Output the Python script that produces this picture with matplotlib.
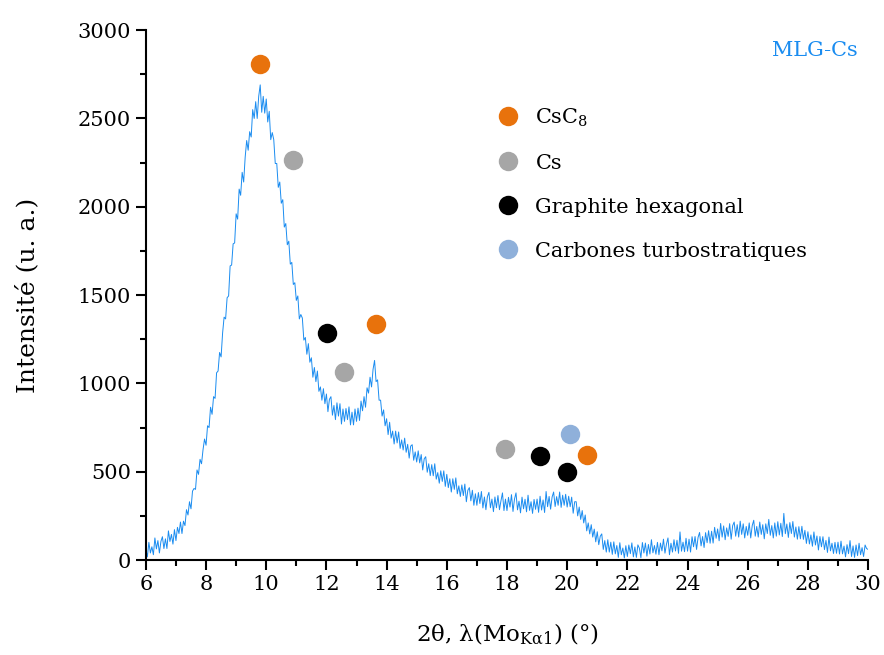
import matplotlib
matplotlib.use('Agg')
import matplotlib.pyplot as plt
from matplotlib.lines import Line2D
from matplotlib.ticker import MultipleLocator
import numpy as np

plt.rcParams['font.family'] = ['DejaVu Serif']
plt.rcParams['mathtext.fontset'] = 'dejavuserif'

BLUE = '#1a8cf0'

# diffractogram, read every 0.05 degree from 6 to 30
two_theta = np.round(np.linspace(6.0, 30.0, 481), 2)
intensity = [
    60, 18, 100, 40, 75, 30, 125, 63, 110, 40, 105, 132, 65, 120, 65, 165, 105, 145, 90, 172,
    110, 185, 150, 215, 150, 220, 195, 285, 255, 330, 290, 390, 405, 400, 510, 485, 570, 545, 625, 685,
    650, 760, 750, 865, 825, 925, 915, 1060, 1070, 1175, 1150, 1285, 1375, 1365, 1485, 1495, 1665, 1670, 1790, 1795,
    1960, 1930, 2100, 2065, 2195, 2140, 2280, 2375, 2320, 2425, 2395, 2550, 2500, 2595, 2500, 2625, 2690, 2535, 2625, 2530,
    2610, 2480, 2540, 2380, 2420, 2380, 2245, 2245, 2110, 2140, 2020, 2040, 1885, 1905, 1785, 1805, 1675, 1685, 1560, 1570,
    1470, 1495, 1365, 1390, 1370, 1245, 1260, 1165, 1225, 1120, 1145, 1035, 1090, 1010, 1070, 955, 980, 905, 970, 885,
    940, 840, 910, 925, 820, 875, 795, 890, 815, 885, 770, 855, 785, 858, 795, 867, 765, 837, 765, 855,
    785, 860, 790, 900, 845, 925, 865, 975, 945, 1035, 980, 1080, 1130, 1010, 1020, 905, 905, 815, 850, 760,
    800, 710, 780, 690, 730, 657, 730, 663, 725, 632, 680, 623, 690, 610, 655, 577, 645, 653, 565, 612,
    555, 618, 550, 597, 510, 573, 585, 497, 545, 478, 540, 477, 545, 458, 495, 435, 505, 445, 505, 417,
    485, 410, 460, 385, 460, 400, 465, 375, 420, 360, 425, 365, 430, 330, 395, 410, 335, 395, 310, 375,
    310, 382, 320, 388, 295, 357, 285, 359, 383, 296, 345, 274, 357, 296, 365, 285, 335, 380, 280, 345,
    280, 355, 300, 370, 275, 345, 380, 284, 333, 267, 356, 290, 344, 273, 367, 281, 330, 264, 343, 287,
    345, 270, 361, 283, 340, 269, 388, 302, 360, 288, 357, 385, 303, 359, 310, 385, 298, 367, 310, 372,
    300, 361, 302, 356, 265, 330, 330, 250, 300, 230, 280, 210, 255, 165, 210, 148, 200, 130, 175, 103,
    160, 87, 135, 148, 60, 110, 45, 115, 45, 101, 32, 103, 35, 82, 15, 98, 30, 68, 12, 81,
    20, 85, 36, 97, 18, 74, 15, 86, 67, 13, 99, 40, 96, 22, 88, 34, 115, 41, 82, 33,
    100, 30, 96, 52, 118, 39, 90, 125, 30, 95, 45, 115, 51, 112, 38, 159, 50, 101, 47, 123,
    50, 118, 45, 132, 75, 133, 60, 128, 156, 80, 133, 71, 155, 98, 166, 95, 163, 96, 185, 123,
    176, 109, 207, 130, 193, 115, 182, 134, 206, 118, 195, 215, 135, 200, 130, 220, 145, 205, 125, 190,
    140, 210, 125, 195, 225, 135, 190, 130, 215, 145, 200, 120, 205, 150, 230, 140, 195, 125, 210, 135,
    217, 142, 208, 133, 264, 149, 204, 128, 212, 150, 218, 130, 187, 118, 189, 120, 191, 117, 168, 94,
    160, 91, 142, 78, 159, 85, 136, 57, 133, 75, 132, 59, 111, 43, 130, 52, 95, 37, 100, 38,
    101, 34, 107, 35, 79, 18, 87, 36, 110, 20, 80, 15, 85, 25, 95, 30, 70, 20, 85, 65,
    60,
]

# phase markers
phases = ['CsC$_8$', 'Cs', 'Graphite hexagonal', 'Carbones turbostratiques']
phase_colors = ['#e8720c', '#a6a6a6', '#000000', '#8fb0da']
phase_x = [[9.8, 13.65, 20.66], [10.9, 12.58, 17.93], [12.02, 19.1, 20.0], [20.1]]
phase_y = [[2810, 1335, 595], [2265, 1065, 630], [1285, 590, 500], [713]]

fig = plt.figure(figsize=(8.84, 6.55), dpi=100)
ax = fig.add_axes([0.165, 0.145, 0.817, 0.809])

ax.plot(two_theta, intensity, color=BLUE, linewidth=0.7)
for xs, ys, c in zip(phase_x, phase_y, phase_colors):
    ax.plot(xs, ys, 'o', color=c, markersize=14, markeredgewidth=0, zorder=3)

handles = [Line2D([], [], marker='o', linestyle='', color=c, markersize=14,
                  markeredgewidth=0) for c in phase_colors]
ax.legend(handles, phases, loc='upper left', bbox_to_anchor=(0.473, 0.876),
          frameon=False, fontsize=15, labelspacing=1.2, handletextpad=0.8,
          borderpad=0, handlelength=1.0)

ax.text(0.986, 0.962, 'MLG-Cs', transform=ax.transAxes, ha='right', va='center',
        color=BLUE, fontsize=15)

ax.set_xlim(6, 30)
ax.set_ylim(0, 3000)
ax.xaxis.set_major_locator(MultipleLocator(2))
ax.xaxis.set_minor_locator(MultipleLocator(1))
ax.yaxis.set_major_locator(MultipleLocator(500))
ax.yaxis.set_minor_locator(MultipleLocator(250))
for s in ['top', 'right']:
    ax.spines[s].set_visible(False)
for s in ['left', 'bottom']:
    ax.spines[s].set_linewidth(1.5)
ax.tick_params(which='major', direction='out', length=7, width=1.5, labelsize=15)
ax.tick_params(which='minor', direction='out', length=4, width=1.5)

ax.set_xlabel(r'2θ, λ(Mo$_{\mathrm{K\alpha 1}}$) (°)', fontsize=16.5, labelpad=20)
ax.set_ylabel('Intensité (u. a.)', fontsize=18, labelpad=28)

fig.savefig('out.png', dpi=100)
